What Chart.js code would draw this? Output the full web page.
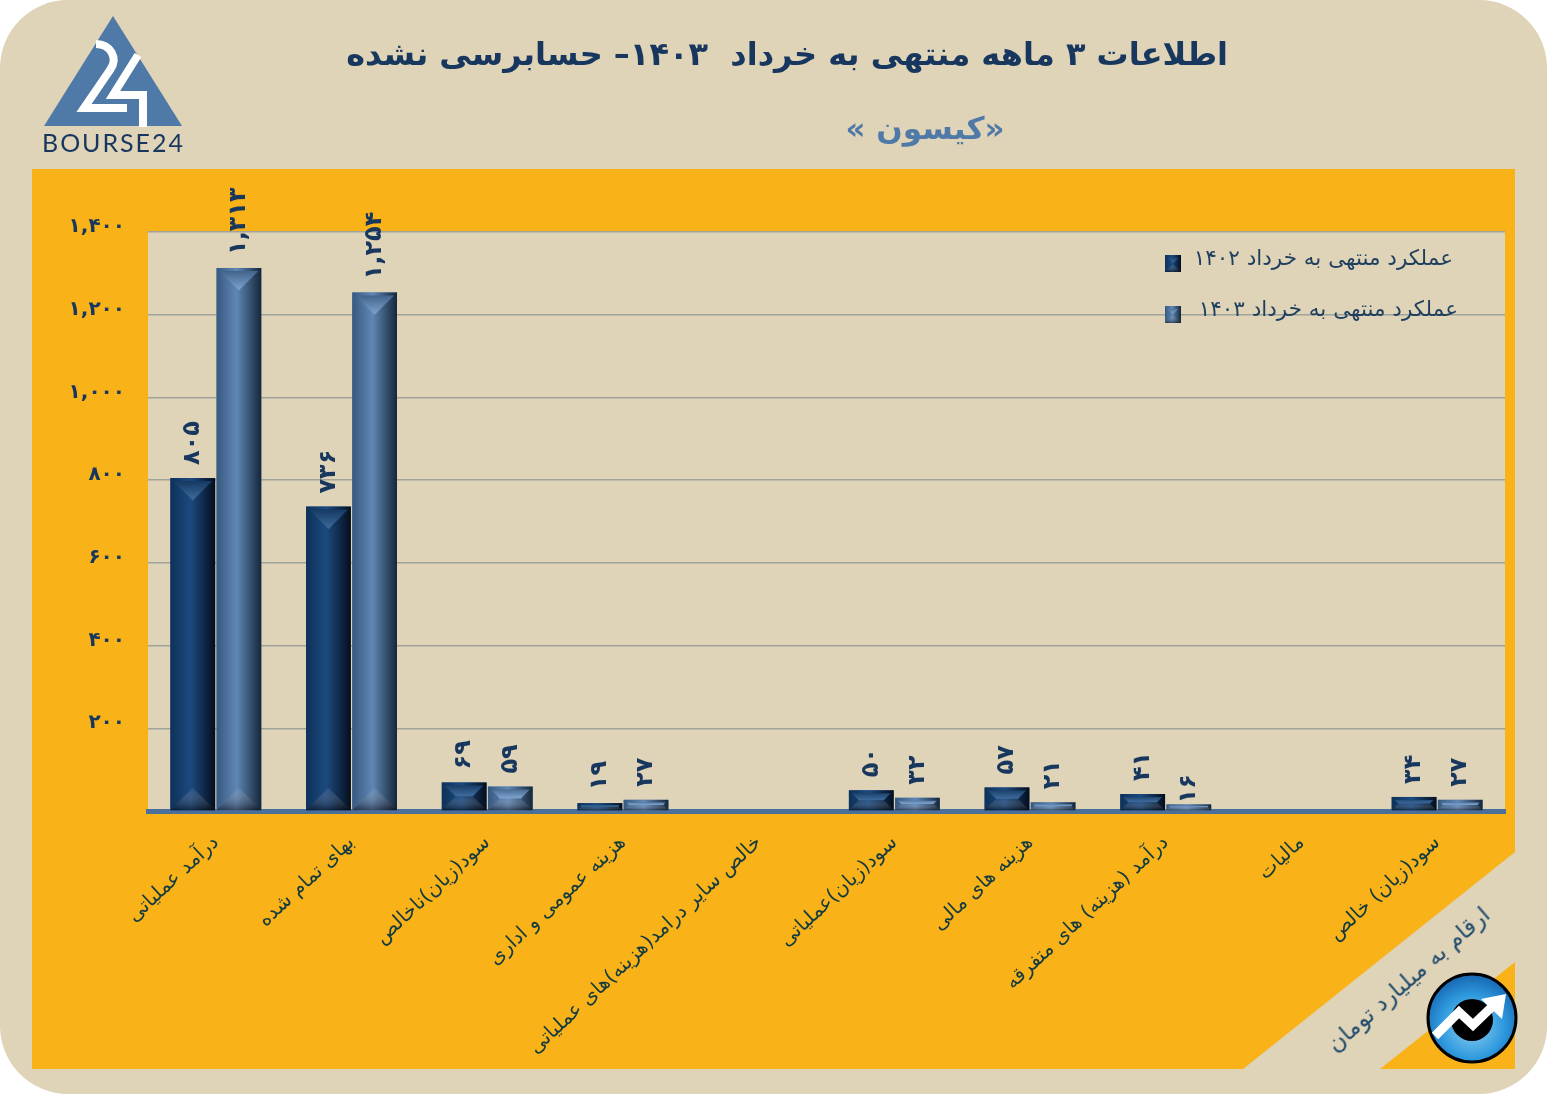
<!DOCTYPE html>
<html lang="fa">
<head>
<meta charset="utf-8">
<title>کیسون</title>
<script src="https://cdn.jsdelivr.net/npm/chart.js@4"></script>
<style>
    html, body { margin: 0; padding: 0; background: #fff; }
    #wrap { position: relative; width: 1547px; height: 1094px; overflow: hidden; font-family: "DejaVu Sans", sans-serif; }
    canvas { position: absolute; left: 0; top: 0; }
    .txt { position: absolute; white-space: pre; direction: rtl; }
    #title { left: 348px; width: 880px; top: 35px; text-align: center; font-size: 32px; font-weight: bold; color: #17375e; }
    #subtitle { left: 782px; width: 286px; top: 110px; text-align: center; font-size: 31px; font-weight: bold; color: #4f79a6; }
    #note { left: 1268px; width: 280px; top: 966px; text-align: center; font-size: 23px; color: #1f4a6b; transform: rotate(-41deg); }
    #logo, #badge { position: absolute; left: 0; top: 0; }
</style>
</head>
<body>
<div id="wrap">
    <canvas id="chart" width="1547" height="1094" dir="rtl"></canvas>
    <div class="txt" id="title">اطلاعات ۳ ماهه منتهی به خرداد  ۱۴۰۳– حسابرسی نشده</div>
    <div class="txt" id="subtitle">«کیسون »</div>
    <div class="txt" id="note">ارقام به میلیارد تومان</div>
    <svg id="logo" width="200" height="165" viewBox="0 0 200 165">
        <polygon points="113,16 182,126 44,126" fill="#4f79a6"/>
        <path d="M96,44 C110,44 119,58 110,70 L84,108 L127,108" fill="none" stroke="#fff" stroke-width="8"/>
        <path d="M138,55 L113,95 L143,95 L143,127" fill="none" stroke="#fff" stroke-width="8"/>
        <text x="42" y="152" font-family="Lato" font-size="25" fill="#17375e" textLength="141">BOURSE24</text>
    </svg>
    <svg id="badge" width="1547" height="1094" viewBox="0 0 1547 1094" style="pointer-events:none">
        <defs>
            <radialGradient id="ball" cx="0.5" cy="0.6" r="0.6">
                <stop offset="0" stop-color="#8fd0f2"/>
                <stop offset="0.6" stop-color="#2f9ade"/>
                <stop offset="1" stop-color="#1565b0"/>
            </radialGradient>
        </defs>
        <circle cx="1472" cy="1018" r="44" fill="url(#ball)" stroke="#000" stroke-width="3"/>
        <circle cx="1472" cy="1020" r="21" fill="#000"/>
        <path d="M1435,1036 L1459,1012 L1473,1025 L1498,1001" fill="none" stroke="#fff" stroke-width="9"/>
        <polygon points="1506,994 1481,999 1502,1019" fill="#fff"/>
    </svg>
</div>
<script>
const categories = [
    'درآمد عملیاتی',
    'بهای تمام شده',
    'سود(زیان)ناخالص',
    'هزینه عمومی و اداری',
    'خالص سایر درامد(هزینه)های عملیاتی',
    'سود(زیان)عملیاتی',
    'هزینه های مالی',
    'درآمد (هزینه) های متفرقه',
    'مالیات',
    'سود(زیان) خالص'
];
const values1402 = [805, 736, 69, 19, 0, 50, 57, 41, 0, 34];
const values1403 = [1313, 1254, 59, 27, 0, 32, 21, 16, 0, 27];
const label1402 = 'عملکرد منتهی به خرداد ۱۴۰۲';
const label1403 = 'عملکرد منتهی به خرداد ۱۴۰۳';

const BEIGE = '#dfd3b8';
const ORANGE = '#f9b218';
const NAVY = '#17375e';

// colours for the bevel of each series: left, middle, right, top face
const bevels = [
    { left: '#0e3158', mid: '#1c4a80', right: '#040e1c', top: '#3f6c9e' },
    { left: '#38597f', mid: '#5f87b5', right: '#15263a', top: '#7fa5d0' }
];

function persian(n) {
    return n.toLocaleString('en-US').replace(/\d/g, d => '۰۱۲۳۴۵۶۷۸۹'[d]);
}

function drawBevel(ctx, left, top, w, h, c) {
    const grad = ctx.createLinearGradient(left, 0, left + w, 0);
    grad.addColorStop(0, c.left);
    grad.addColorStop(0.45, c.mid);
    grad.addColorStop(1, c.right);
    ctx.fillStyle = grad;
    ctx.fillRect(left, top, w, h);

    const d = Math.min(w / 2, h / 2);
    // top face
    const topGrad = ctx.createLinearGradient(0, top, 0, top + d);
    topGrad.addColorStop(0, c.left);
    topGrad.addColorStop(1, c.top);
    ctx.fillStyle = topGrad;
    ctx.beginPath();
    ctx.moveTo(left + 3, top + Math.min(3, d / 2));
    ctx.lineTo(left + w - 3, top + Math.min(3, d / 2));
    ctx.lineTo(left + w - d, top + d);
    ctx.lineTo(left + d, top + d);
    ctx.closePath();
    ctx.fill();
    // bottom face, only a faint shade
    const botGrad = ctx.createLinearGradient(0, top + h - d, 0, top + h);
    botGrad.addColorStop(0, 'rgba(255,255,255,0.06)');
    botGrad.addColorStop(1, 'rgba(0,0,10,0.45)');
    ctx.fillStyle = botGrad;
    ctx.beginPath();
    ctx.moveTo(left, top + h);
    ctx.lineTo(left + w, top + h);
    ctx.lineTo(left + w - d, top + h - d);
    ctx.lineTo(left + d, top + h - d);
    ctx.closePath();
    ctx.fill();
}

const backdrop = {
    id: 'backdrop',
    beforeDraw(chart) {
        const { ctx, chartArea: a } = chart;
        ctx.save();
        ctx.fillStyle = BEIGE;
        ctx.beginPath();
        ctx.roundRect(0, 0, 1547, 1094, 68);
        ctx.fill();
        // orange panel with the cut corner
        ctx.fillStyle = ORANGE;
        ctx.beginPath();
        ctx.moveTo(32, 169);
        ctx.lineTo(1515, 169);
        ctx.lineTo(1515, 852);
        ctx.lineTo(1243, 1069);
        ctx.lineTo(32, 1069);
        ctx.closePath();
        ctx.fill();
        ctx.beginPath();
        ctx.moveTo(1515, 962);
        ctx.lineTo(1515, 1069);
        ctx.lineTo(1380, 1069);
        ctx.closePath();
        ctx.fill();
        ctx.fillStyle = BEIGE;
        ctx.fillRect(a.left, a.top, a.width, a.height);
        ctx.restore();
    }
};

const barLook = {
    id: 'barLook',
    afterDatasetsDraw(chart) {
        const { ctx } = chart;
        ctx.save();
        chart.data.datasets.forEach((ds, di) => {
            chart.getDatasetMeta(di).data.forEach((bar, i) => {
                if (!ds.data[i]) return;
                const p = bar.getProps(['x', 'y', 'base', 'width'], true);
                drawBevel(ctx, p.x - p.width / 2, p.y, p.width, p.base - p.y, bevels[di]);
                // value label, turned to read upward
                ctx.save();
                ctx.translate(p.x, p.y - (ds.data[i] === 16 ? 1 : 13)); // the 16 sits right on its bar in the original
                ctx.rotate(-Math.PI / 2);
                ctx.fillStyle = NAVY;
                ctx.font = 'bold 24px "DejaVu Sans"';
                ctx.textAlign = 'left';
                ctx.textBaseline = 'middle';
                ctx.fillText(persian(ds.data[i]), 0, 0);
                ctx.restore();
            });
        });
        // legend inside the plot
        [[label1402, 255, 1453], [label1403, 306, 1458]].forEach((row, i) => {
            drawBevel(ctx, 1165, row[1], 16, 17, bevels[i]);
            ctx.fillStyle = '#1f3f5f';
            ctx.font = '21.5px "DejaVu Sans"';
            ctx.textAlign = 'right';
            ctx.textBaseline = 'middle';
            ctx.fillText(row[0], row[2], row[1] + 4);
        });
        ctx.restore();
    }
};

new Chart(document.getElementById('chart').getContext('2d'), {
    type: 'bar',
    data: {
        labels: categories,
        datasets: [
            { label: label1402, data: values1402, backgroundColor: '#1c4a80', categoryPercentage: 0.68, barPercentage: 0.97 },
            { label: label1403, data: values1403, backgroundColor: '#5f87b5', categoryPercentage: 0.68, barPercentage: 0.97 }
        ]
    },
    plugins: [backdrop, barLook],
    options: {
        responsive: false,
        animation: false,
        layout: { padding: { top: 232, right: 42, left: 0, bottom: 0 } },
        plugins: { legend: { display: false }, tooltip: { enabled: false } },
        scales: {
            x: {
                afterFit(scale) { scale.height = 283; },
                grid: { display: false },
                border: { color: '#4a6f9a', width: 5 },
                ticks: {
                    autoSkip: false,
                    minRotation: 43,
                    maxRotation: 43,
                    padding: 12,
                    color: '#123a40',
                    font: { family: '"DejaVu Sans"', size: 20 }
                }
            },
            y: {
                min: 0,
                max: 1400,
                afterFit(scale) { scale.width = 148; },
                grid: { color: '#a0a39a', lineWidth: 1.5, drawTicks: false },
                border: { display: false },
                ticks: {
                    stepSize: 200,
                    padding: 23,
                    labelOffset: -5,
                    color: NAVY,
                    font: { family: '"DejaVu Sans"', size: 20, weight: 'bold' },
                    callback: v => (v === 0 ? '' : persian(v))
                }
            }
        }
    }
});
</script>
</body>
</html>
